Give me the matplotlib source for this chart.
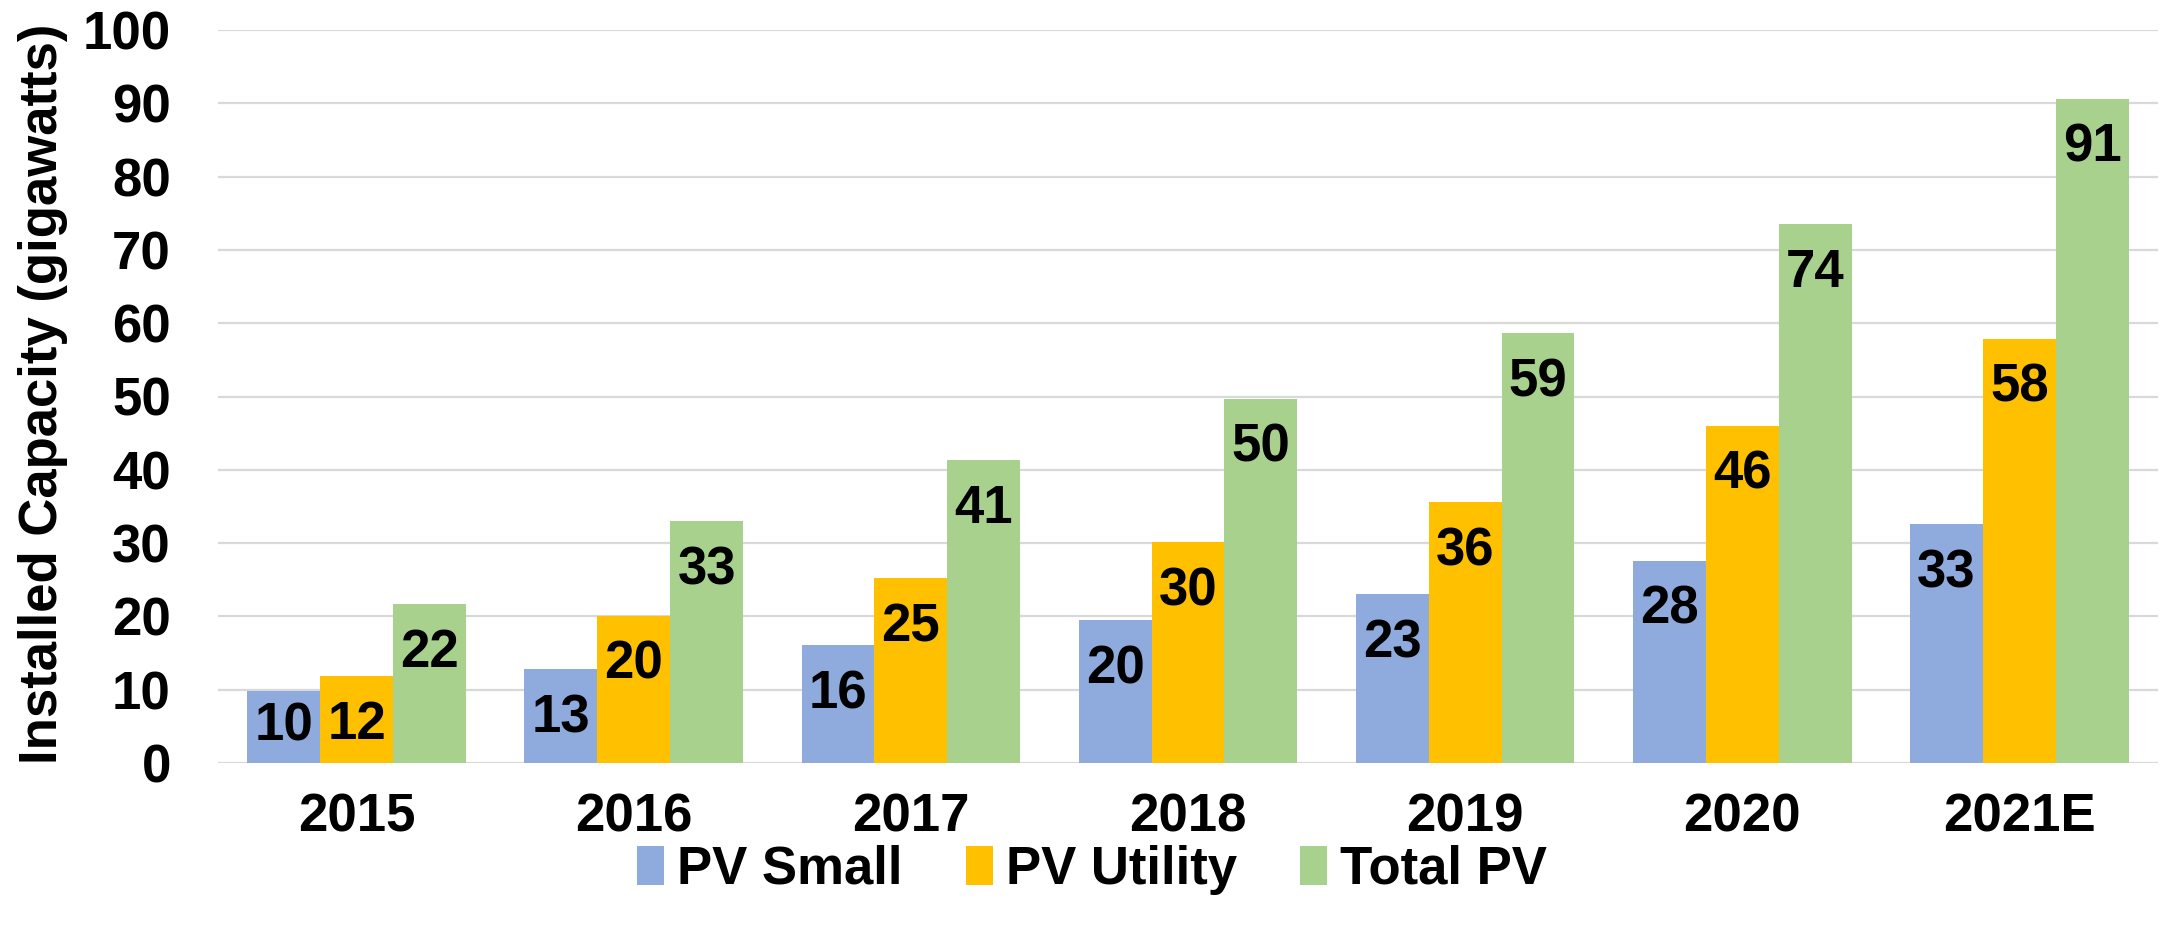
import matplotlib
matplotlib.use("Agg")
import matplotlib.pyplot as plt
import numpy as np

# datos
years = ["2015", "2016", "2017", "2018", "2019", "2020", "2021E"]
pv_small = [9.8, 12.8, 16.1, 19.5, 23.0, 27.6, 32.6]
pv_utility = [11.9, 20.1, 25.2, 30.1, 35.6, 46.0, 57.9]
total_pv = [21.7, 33.0, 41.4, 49.7, 58.6, 73.6, 90.6]
series_names = ["PV Small", "PV Utility", "Total PV"]
colors = ["#8FAADC", "#FFC000", "#A9D18E"]

plt.rcParams['font.family'] = ['Liberation Sans', 'DejaVu Sans']
plt.rcParams['font.weight'] = 'bold'
fs = 38

fig = plt.figure(figsize=(21.6, 9.25), dpi=100)
ax = fig.add_axes([218 / 2160, 162 / 925, 1940 / 2160, 733 / 925])

x = np.arange(len(years))
w = 0.263
series = [pv_small, pv_utility, total_pv]

for i, vals in enumerate(series):
    pos = x + (i - 1) * w
    ax.bar(pos, vals, width=w, color=colors[i], label=series_names[i],
           edgecolor='none', zorder=2)
    for xi, v in zip(pos, vals):
        # etiqueta dentro del extremo de la barra
        yb = max(v - 8.6, 3.1)
        ax.text(xi, yb, f"{v:.0f}", ha='center', va='baseline',
                fontsize=fs, fontweight='bold', color='black', zorder=3)

ax.set_xlim(-0.5, len(years) - 0.5)
ax.set_ylim(0, 100)
ax.set_yticks(np.arange(0, 101, 10))
ax.set_xticks(x)
ax.set_xticklabels(years)
ax.tick_params(axis='both', length=0, labelsize=fs)
ax.tick_params(axis='y', pad=34)
ax.tick_params(axis='x', pad=21)
for lab in ax.get_xticklabels() + ax.get_yticklabels():
    lab.set_fontweight('bold')

ax.set_axisbelow(True)
ax.yaxis.grid(True, color='#D9D9D9', linewidth=1.6, zorder=0)
for s in ax.spines.values():
    s.set_visible(False)

fig.text(43 / 2160, 1 - 394 / 925, "Installed Capacity (gigawatts)",
         rotation=90, ha='center', va='center', fontsize=fs, fontweight='bold')

fig.legend(loc='center', bbox_to_anchor=(1092 / 2160, 1 - 870 / 925),
           ncol=3, frameon=False, fontsize=fs, handlelength=0.51,
           handleheight=0.74, handletextpad=0.25, columnspacing=1.19,
           borderaxespad=0, borderpad=0)

fig.savefig("out.png", dpi=100)
